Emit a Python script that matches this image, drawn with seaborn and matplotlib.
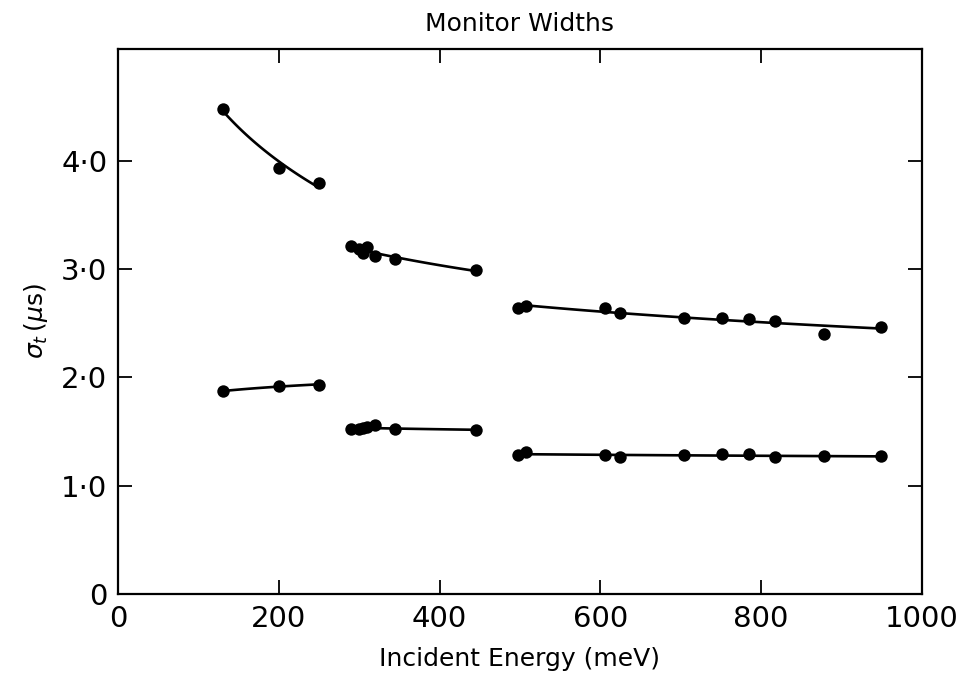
import matplotlib

matplotlib.use("Agg")

import matplotlib.pyplot as plt
import pandas as pd
import seaborn as sns


# incident energy (meV) for each chopper setting
seg1_energy = [130, 200, 250]
seg2_energy = [290, 300, 305, 310, 320, 345, 445]
seg3_energy = [498, 507, 606, 624, 704, 752, 785, 818, 878, 950]

# monitor widths sigma_t (us), upper and lower monitor
seg1_upper = [4.48, 3.93, 3.79]
seg2_upper = [3.21, 3.18, 3.15, 3.20, 3.12, 3.09, 2.99]
seg3_upper = [2.64, 2.66, 2.64, 2.59, 2.55, 2.55, 2.54, 2.52, 2.40, 2.46]

seg1_lower = [1.87, 1.92, 1.93]
seg2_lower = [1.52, 1.52, 1.53, 1.54, 1.56, 1.52, 1.51]
seg3_lower = [1.28, 1.31, 1.28, 1.26, 1.28, 1.29, 1.29, 1.26, 1.27, 1.27]

x_ticks = [0, 200, 400, 600, 800, 1000]
y_ticks = [0, 1, 2, 3, 4]
y_tick_labels = ["0", "1\u00b70", "2\u00b70", "3\u00b70", "4\u00b70"]


def build_frame() -> pd.DataFrame:
	rows = []
	segments = [
		(seg1_energy, seg1_upper, seg1_lower),
		(seg2_energy, seg2_upper, seg2_lower),
		(seg3_energy, seg3_upper, seg3_lower),
	]
	for i, (energy, upper, lower) in enumerate(segments):
		for e, v in zip(energy, upper):
			rows.append({"energy": e, "sigma": v, "branch": "upper", "segment": i})
		for e, v in zip(energy, lower):
			rows.append({"energy": e, "sigma": v, "branch": "lower", "segment": i})
	return pd.DataFrame(rows)


def main() -> None:
	df = build_frame()

	sns.set_style("white")
	plt.rcParams["font.family"] = ["DejaVu Sans"]
	plt.rcParams["text.color"] = "black"
	plt.rcParams["axes.labelcolor"] = "black"
	plt.rcParams["xtick.color"] = "black"
	plt.rcParams["ytick.color"] = "black"

	fig = plt.figure(figsize=(9.62, 6.81), dpi=100)
	ax = fig.add_axes([0.123, 0.128, 0.835, 0.8])

	# smooth fitted curves through each group
	for (_, _), grp in df.groupby(["segment", "branch"]):
		sns.regplot(
			data=grp,
			x="energy",
			y="sigma",
			logx=True,
			ci=None,
			scatter=False,
			truncate=True,
			color="black",
			line_kws={"linewidth": 1.9},
			ax=ax,
		)

	sns.scatterplot(
		data=df,
		x="energy",
		y="sigma",
		color="black",
		s=80,
		edgecolor="black",
		linewidth=0,
		legend=False,
		zorder=3,
		ax=ax,
	)

	ax.set_xlim(0, 1000)
	ax.set_ylim(0, 5.03)
	ax.set_xticks(x_ticks)
	ax.set_yticks(y_ticks)
	ax.set_yticklabels(y_tick_labels)

	ax.tick_params(
		direction="in",
		length=10,
		width=1.3,
		bottom=True,
		left=True,
		top=True,
		right=True,
		labelsize=21,
		pad=8,
		colors="black",
	)
	for spine in ax.spines.values():
		spine.set_linewidth(1.6)
		spine.set_color("black")

	ax.set_title("Monitor Widths", fontsize=18, pad=13)
	ax.set_xlabel("Incident Energy (meV)", fontsize=18, labelpad=10)
	ax.set_ylabel(r"$\sigma_t\,(\mu$s$)$", fontsize=18, labelpad=8)

	fig.savefig("out.png", dpi=100)
	plt.close(fig)


if __name__ == "__main__":
	main()
